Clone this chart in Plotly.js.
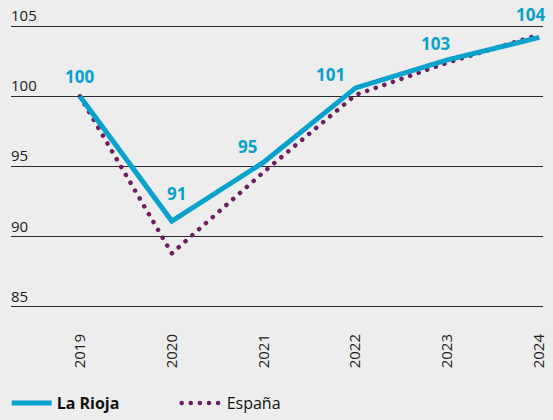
<!DOCTYPE html>
<html>
<head>
<meta charset="utf-8">
<script src="https://cdn.plot.ly/plotly-3.0.1.min.js"></script>
<style>
html,body{margin:0;padding:0;background:#ecedec;}
#chart{width:553px;height:420px;}
</style>
</head>
<body>
<div id="chart"></div>
<script>
const years = [2019, 2020, 2021, 2022, 2023, 2024];
const laRioja = [100, 91.1, 95.3, 100.6, 102.6, 104.2];
const espana = [100, 88.8, 94.6, 100.1, 102.4, 104.4];
const yTicks = [85, 90, 95, 100, 105];

const labelDx = [0, 5, -16, -25, -12, -9];
const labelDy = [20, 28, 16, 13, 16, 23];

const cyan = '#08a2cd';
const purple = '#6e1d5f';
const font = '"Open Sans", "Noto Sans", sans-serif';

const traces = [
  {x: years, y: espana, name: 'España', type: 'scatter', mode: 'lines',
   line: {color: purple, width: 4.5, dash: '0.1px,9px'}},
  {x: years, y: laRioja, name: '<b>La Rioja</b>', type: 'scatter', mode: 'lines',
   line: {color: cyan, width: 5}}
];

const annotations = years.map((yr, i) => ({
  x: yr, y: laRioja[i], text: '<b>' + Math.round(laRioja[i]) + '</b>',
  showarrow: false, xanchor: 'center', yanchor: 'middle',
  xshift: labelDx[i], yshift: labelDy[i],
  font: {family: font, size: 17, color: cyan}
})).concat(yTicks.map(v => ({
  x: 0, xref: 'paper', y: v, yref: 'y', text: String(v),
  showarrow: false, xanchor: 'left', yanchor: 'bottom', yshift: -1, xshift: -2,
  font: {family: font, size: 15, color: '#222'}
})));

const layout = {
  width: 553, height: 420,
  paper_bgcolor: '#ecedec', plot_bgcolor: '#ecedec',
  margin: {l: 11, r: 10, t: 8, b: 112},
  font: {family: font, color: '#222', size: 15},
  showlegend: true,
  legend: {orientation: 'h', x: 0.012, xref: 'container', xanchor: 'left',
           y: -0.026, yref: 'container', yanchor: 'bottom',
           traceorder: 'reversed', font: {size: 16, color: '#111'}, entrywidth: 115,
           entrywidthmode: 'pixels', itemwidth: 40,
           bgcolor: 'rgba(0,0,0,0)'},
  xaxis: {range: [2018.25, 2024.04], tickvals: years, ticktext: years.map(String),
          tickangle: -90, showgrid: false, zeroline: false, showline: false, automargin: false,
          ticks: '', ticklabelstandoff: 22, tickfont: {size: 15, color: '#222'}, fixedrange: true},
  yaxis: {range: [84.9, 106.3], tickvals: yTicks, showticklabels: false, automargin: false,
          showgrid: true, gridcolor: '#2b2b2b', gridwidth: 1,
          zeroline: false, showline: false, ticks: '', fixedrange: true},
  annotations: annotations
};

Plotly.newPlot('chart', traces, layout, {staticPlot: true, displayModeBar: false}).then(() => {
  document.querySelectorAll('#chart path.js-line, #chart .legendlines path').forEach(p => {
    const s = p.style.stroke || '';
    if (s.indexOf('110, 29, 95') >= 0) p.style.strokeLinecap = 'round';
  });
});
</script>
</body>
</html>
